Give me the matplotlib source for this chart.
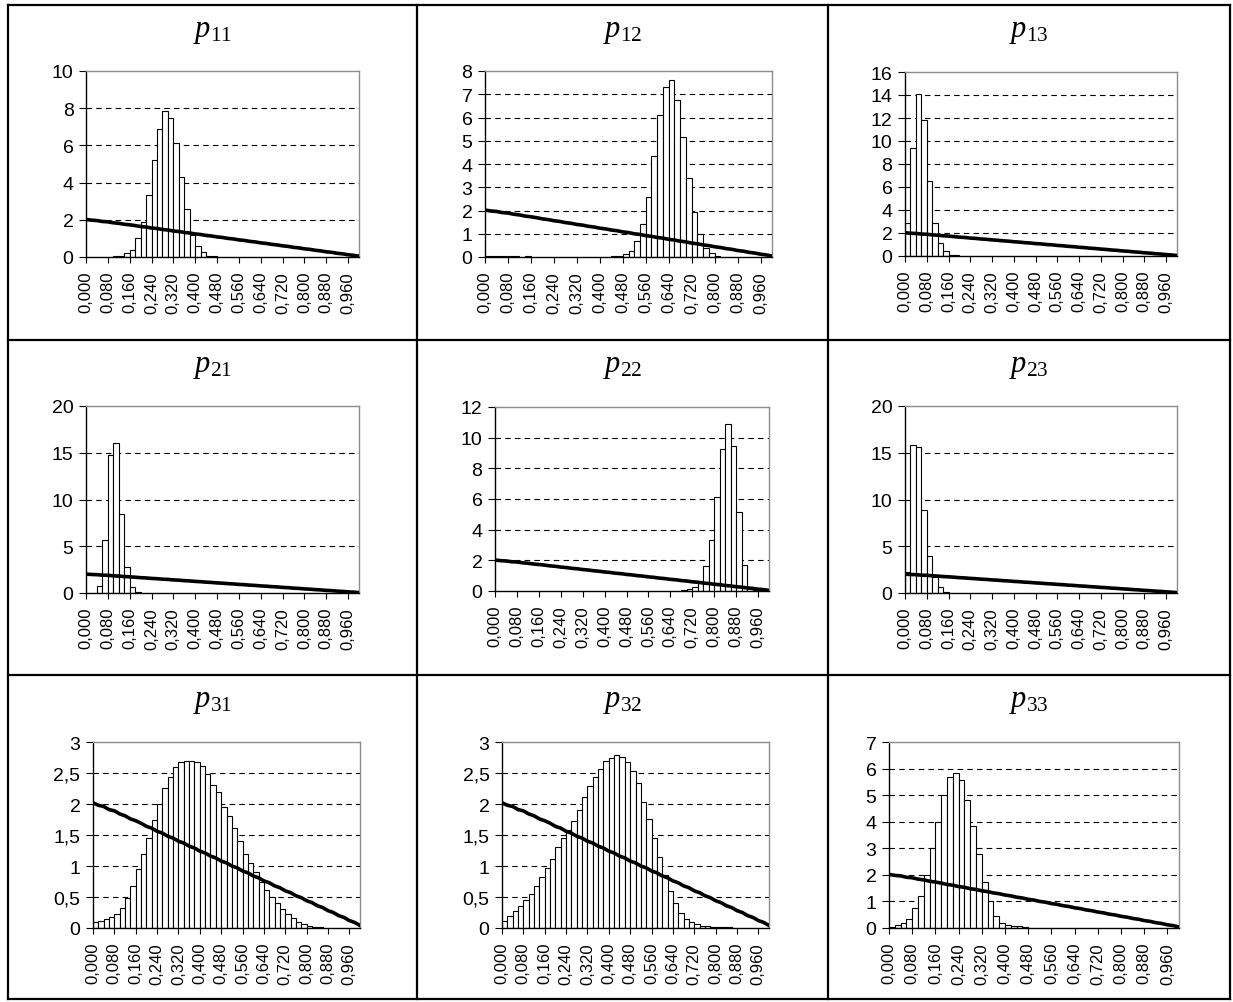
import matplotlib
matplotlib.use("Agg")
import matplotlib.pyplot as plt
from matplotlib.lines import Line2D
from matplotlib.ticker import FixedLocator, FuncFormatter
import numpy as np

plt.rcParams["font.family"] = ["Liberation Sans", "DejaVu Sans"]
plt.rcParams["mathtext.fontset"] = "custom"
plt.rcParams["mathtext.it"] = "Liberation Serif:italic"
plt.rcParams["mathtext.rm"] = "Liberation Serif"
plt.rcParams["lines.scale_dashes"] = False

W, H = 1233, 1003

# ---------------- data ----------------
N_BINS = 50
BIN_WIDTH = 0.02
X_TICKS = [0.000, 0.080, 0.160, 0.240, 0.320, 0.400, 0.480, 0.560,
           0.640, 0.720, 0.800, 0.880, 0.960]

TITLES = ["11", "12", "13", "21", "22", "23", "31", "32", "33"]

P11 = [0, 0, 0, 0, 0, 0.05, 0.08, 0.2, 0.4, 1.0,
       1.9, 3.35, 5.2, 6.9, 7.85, 7.5, 6.15, 4.3, 2.6, 1.2,
       0.58, 0.27, 0.05, 0.05, 0, 0, 0, 0, 0, 0,
       0, 0, 0, 0, 0, 0, 0, 0, 0, 0,
       0, 0, 0, 0, 0, 0, 0, 0, 0, 0]
P12 = [0.05, 0.05, 0.05, 0.05, 0.05, 0.05, 0, 0.05, 0, 0,
       0, 0, 0, 0, 0, 0, 0, 0, 0, 0,
       0, 0, 0.05, 0.05, 0.12, 0.27, 0.7, 1.4, 2.6, 4.35,
       6.1, 7.3, 7.6, 6.75, 5.15, 3.38, 1.95, 1.0, 0.4, 0.18,
       0.05, 0, 0, 0, 0, 0, 0, 0, 0, 0]
P13 = [2.87, 9.4, 14.1, 11.85, 6.52, 2.87, 1.13, 0.4, 0.12, 0.05,
       0, 0, 0, 0, 0, 0, 0, 0, 0, 0,
       0, 0, 0, 0, 0, 0, 0, 0, 0, 0,
       0, 0, 0, 0, 0, 0, 0, 0, 0, 0,
       0, 0, 0, 0, 0, 0, 0, 0, 0, 0]
P21 = [0, 0, 0.78, 5.66, 14.8, 16.0, 8.47, 2.81, 0.64, 0.1,
       0, 0, 0, 0, 0, 0, 0, 0, 0, 0,
       0, 0, 0, 0, 0, 0, 0, 0, 0, 0,
       0, 0, 0, 0, 0, 0, 0, 0, 0, 0,
       0, 0, 0, 0, 0, 0, 0, 0, 0, 0]
P22 = [0, 0, 0, 0, 0, 0, 0, 0, 0, 0,
       0, 0, 0, 0, 0, 0, 0, 0, 0, 0,
       0, 0, 0, 0, 0, 0, 0, 0, 0, 0,
       0, 0, 0, 0, 0.05, 0.1, 0.28, 0.63, 1.61, 3.35,
       6.1, 9.24, 10.9, 9.46, 5.17, 1.72, 0.26, 0.05, 0, 0]
P23 = [2.28, 15.87, 15.66, 8.83, 3.99, 1.67, 0.64, 0.1, 0, 0,
       0, 0, 0, 0, 0, 0, 0, 0, 0, 0,
       0, 0, 0, 0, 0, 0, 0, 0, 0, 0,
       0, 0, 0, 0, 0, 0, 0, 0, 0, 0,
       0, 0, 0, 0, 0, 0, 0, 0, 0, 0]
P31 = [0.1, 0.12, 0.15, 0.18, 0.22, 0.32, 0.48, 0.68, 0.95, 1.2,
       1.45, 1.74, 2.0, 2.26, 2.44, 2.59, 2.68, 2.7, 2.7, 2.67,
       2.61, 2.49, 2.31, 2.19, 1.95, 1.81, 1.61, 1.4, 1.2, 1.05,
       0.9, 0.75, 0.62, 0.5, 0.4, 0.3, 0.22, 0.16, 0.1, 0.07,
       0.04, 0.02, 0.01, 0, 0, 0, 0, 0, 0, 0]
P32 = [0.12, 0.2, 0.28, 0.35, 0.45, 0.55, 0.68, 0.82, 0.97, 1.12,
       1.3, 1.45, 1.58, 1.72, 1.91, 2.12, 2.29, 2.44, 2.57, 2.69,
       2.74, 2.79, 2.76, 2.67, 2.54, 2.34, 2.04, 1.76, 1.45, 1.15,
       0.85, 0.6, 0.4, 0.25, 0.15, 0.1, 0.06, 0.04, 0.03, 0.02,
       0.02, 0.01, 0.01, 0, 0, 0, 0, 0, 0, 0]
P33 = [0.05, 0.1, 0.2, 0.35, 0.75, 1.2, 2.0, 3.0, 4.0, 5.0,
       5.68, 5.85, 5.57, 4.81, 3.83, 2.8, 1.75, 1.0, 0.45, 0.2,
       0.1, 0.08, 0.06, 0.05, 0, 0, 0, 0, 0, 0,
       0, 0, 0, 0, 0, 0, 0, 0, 0, 0,
       0, 0, 0, 0, 0, 0, 0, 0, 0, 0]

# prior density line (51 points at bin edges 0 ... 1)
PRIOR = [2.02, 1.98, 1.96, 1.91, 1.89, 1.84, 1.81, 1.76, 1.73, 1.69,
         1.64, 1.61, 1.56, 1.53, 1.48, 1.45, 1.40, 1.37, 1.32, 1.29,
         1.24, 1.21, 1.16, 1.13, 1.08, 1.05, 1.00, 0.97, 0.92, 0.89,
         0.84, 0.81, 0.76, 0.73, 0.68, 0.65, 0.60, 0.57, 0.52, 0.49,
         0.44, 0.41, 0.36, 0.33, 0.28, 0.25, 0.20, 0.17, 0.12, 0.09, 0.04]

Y_TICKS = [
    [0, 2, 4, 6, 8, 10],
    [0, 1, 2, 3, 4, 5, 6, 7, 8],
    [0, 2, 4, 6, 8, 10, 12, 14, 16],
    [0, 5, 10, 15, 20],
    [0, 2, 4, 6, 8, 10, 12],
    [0, 5, 10, 15, 20],
    [0, 0.5, 1, 1.5, 2, 2.5, 3],
    [0, 0.5, 1, 1.5, 2, 2.5, 3],
    [0, 1, 2, 3, 4, 5, 6, 7],
]
SERIES = [P11, P12, P13, P21, P22, P23, P31, P32, P33]

# ---------------- layout (pixels) ----------------
AX_BOX = [  # left, right, top, bottom
    (86, 359, 72, 258), (485, 772, 72, 258), (905, 1177, 73, 257),
    (86, 359, 407, 594), (495, 769, 408, 592), (905, 1177, 407, 594),
    (93, 360, 743, 929), (502, 769, 743, 929), (889, 1179, 743, 929),
]
COL_X = [8, 417, 828, 1230]
ROW_Y = [6, 341, 676, 1000]

fig = plt.figure(figsize=(W / 100, H / 100), dpi=100)
fig.patch.set_facecolor("white")

# table frame
for x in COL_X:
    fig.add_artist(Line2D([x / W, x / W], [1 - ROW_Y[0] / H, 1 - ROW_Y[-1] / H],
                          transform=fig.transFigure, color="black", lw=1.6))
for y in ROW_Y:
    fig.add_artist(Line2D([COL_X[0] / W, COL_X[-1] / W], [1 - y / H, 1 - y / H],
                          transform=fig.transFigure, color="black", lw=1.6))


def comma_fmt(v, pos=None):
    if abs(v - round(v)) < 1e-9:
        return str(int(round(v)))
    return f"{v:g}".replace(".", ",")


def x_fmt(v, pos=None):
    return f"{v:.3f}".replace(".", ",")


edges = np.arange(N_BINS) * BIN_WIDTH
line_x = np.arange(N_BINS + 1) * BIN_WIDTH

for i, (vals, yt, box) in enumerate(zip(SERIES, Y_TICKS, AX_BOX)):
    l, r, t, b = box
    ax = fig.add_axes([l / W, 1 - b / H, (r - l) / W, (b - t) / H])
    ax.set_xlim(0, 1)
    ax.set_ylim(0, yt[-1])
    vals = np.asarray(vals, dtype=float)
    m = vals > 0
    ax.bar(edges[m], vals[m], width=BIN_WIDTH, align="edge", color="white",
           edgecolor="black", linewidth=0.8, zorder=2)
    ax.plot(line_x, PRIOR, color="black", lw=2.6, zorder=3,
            solid_joinstyle="round")
    for yv in yt[1:-1]:
        ax.axhline(yv, color="black", lw=0.8, dashes=(4, 3), zorder=1)
    ax.xaxis.set_major_locator(FixedLocator(X_TICKS))
    ax.xaxis.set_major_formatter(FuncFormatter(x_fmt))
    ax.yaxis.set_major_locator(FixedLocator(yt))
    ax.yaxis.set_major_formatter(FuncFormatter(comma_fmt))
    ax.tick_params(axis="x", direction="out", length=4, width=0.8,
                   labelsize=12, labelrotation=90, pad=6)
    ax.tick_params(axis="y", direction="out", length=5, width=0.8,
                   labelsize=14, pad=4)
    for s in ("left", "bottom"):
        ax.spines[s].set_color("black")
        ax.spines[s].set_linewidth(1.0)
    for s in ("top", "right"):
        ax.spines[s].set_color("#8c8c8c")
        ax.spines[s].set_linewidth(1.0)
    ax.set_facecolor("white")

    # panel title
    row, col = divmod(i, 3)
    cx = (COL_X[col] + COL_X[col + 1]) / 2
    by = ROW_Y[row] + 31
    fig.text(cx / W, 1 - by / H, r"$p_{\mathrm{%s}}$" % TITLES[i],
             ha="center", va="baseline", fontsize=22)

fig.savefig("out.png", dpi=100, facecolor="white")
